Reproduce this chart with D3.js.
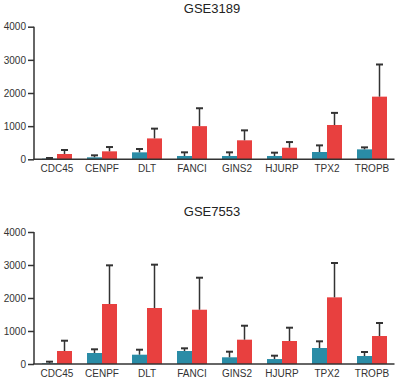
<!DOCTYPE html>
<html><head><meta charset="utf-8">
<script src="https://cdn.jsdelivr.net/npm/d3@7"></script>
<style>body{margin:0;background:#fff}svg{display:block}</style>
</head><body><svg id="c" width="398" height="384"></svg>
<script>
const genes = ["CDC45","CENPF","DLT","FANCI","GINS2","HJURP","TPX2","TROPB"];
const groups = ["normal","tumor"];
const yTicks = [0,1000,2000,3000,4000];
const titles = ["GSE3189","GSE7553"];
// GSE3189
const gse3189Normal = [20,60,210,100,100,100,220,300];
const gse3189NormalErr = [20,60,100,110,110,100,200,60];
const gse3189Tumor = [160,240,630,1000,573,350,1035,1890];
const gse3189TumorErr = [120,130,295,540,300,170,365,970];
// GSE7553
const gse7553Normal = [20,333,282,394,203,150,485,242];
const gse7553NormalErr = [50,112,151,81,170,102,202,122];
const gse7553Tumor = [394,1818,1697,1645,737,697,2020,848];
const gse7553TumorErr = [312,1172,1313,970,423,403,1040,394];

const colors = {normal:"#2a8ca6", tumor:"#e8403f"};
const svg = d3.select("#c");
const font = "'Liberation Sans', Arial, sans-serif";

const panels = [
  {title:titles[0], titleY:12.5, y0:159.3, y1:26.7, normal:gse3189Normal, nErr:gse3189NormalErr, tumor:gse3189Tumor, tErr:gse3189TumorErr},
  {title:titles[1], titleY:215.5, y0:364, y1:232, normal:gse7553Normal, nErr:gse7553NormalErr, tumor:gse7553Tumor, tErr:gse7553TumorErr}
];

const x = d3.scaleBand().domain(genes).range([34.5, 394.5]).paddingInner(0).paddingOuter(0);
const xi = d3.scaleBand().domain(groups).range([0, 30]);

panels.forEach(p => {
  const g = svg.append("g");
  const y = d3.scaleLinear().domain([0,4000]).range([p.y0, p.y1]);
  g.append("text").attr("x", 212).attr("y", p.titleY).attr("text-anchor","middle")
    .attr("font-family", font).attr("font-size", 13).attr("fill","#222").text(p.title);

  const data = genes.map((gname,i)=>[
    {gene:gname, grp:"normal", v:p.normal[i], e:p.nErr[i]},
    {gene:gname, grp:"tumor", v:p.tumor[i], e:p.tErr[i]}
  ]).flat();

  const off = (x.bandwidth()-30)/2;
  g.selectAll("rect.bar").data(data).join("rect")
    .attr("x", d => x(d.gene)+off+xi(d.grp))
    .attr("y", d => y(d.v))
    .attr("width", xi.bandwidth())
    .attr("height", d => y(0)-y(d.v))
    .attr("fill", d => colors[d.grp]);

  const eb = g.selectAll("g.err").data(data).join("g")
    .attr("stroke","#333").attr("stroke-width",1.5);
  eb.append("line")
    .attr("x1", d => x(d.gene)+off+xi(d.grp)+xi.bandwidth()/2)
    .attr("x2", d => x(d.gene)+off+xi(d.grp)+xi.bandwidth()/2)
    .attr("y1", d => y(d.v)).attr("y2", d => y(d.v+d.e));
  eb.append("line")
    .attr("x1", d => x(d.gene)+off+xi(d.grp)+xi.bandwidth()/2-3.5)
    .attr("x2", d => x(d.gene)+off+xi(d.grp)+xi.bandwidth()/2+3.5)
    .attr("y1", d => y(d.v+d.e)).attr("y2", d => y(d.v+d.e))
    .attr("stroke-width",2);

  const yAxis = g.append("g").attr("transform","translate(34,0)")
    .call(d3.axisLeft(y).tickValues(yTicks).tickSize(6).tickPadding(2).tickFormat(d3.format("d")));
  yAxis.select(".domain").attr("stroke","#333").attr("stroke-width",1.5).attr("d", `M0,${y(4000)}V${y(0)}`);
  yAxis.selectAll(".tick line").attr("stroke","#333").attr("stroke-width",1.5);
  yAxis.selectAll("text").attr("font-family",font).attr("font-size",10).attr("fill","#333");

  const xAxis = g.append("g").attr("transform",`translate(0,${y(0)})`)
    .call(d3.axisBottom(x).tickSize(0).tickPadding(6));
  xAxis.select(".domain").attr("stroke","#333").attr("stroke-width",1.5).attr("d", `M33.3,0H394.5`);
  xAxis.selectAll("text").attr("font-family",font).attr("font-size",10).attr("fill","#333");
});
</script></body></html>
